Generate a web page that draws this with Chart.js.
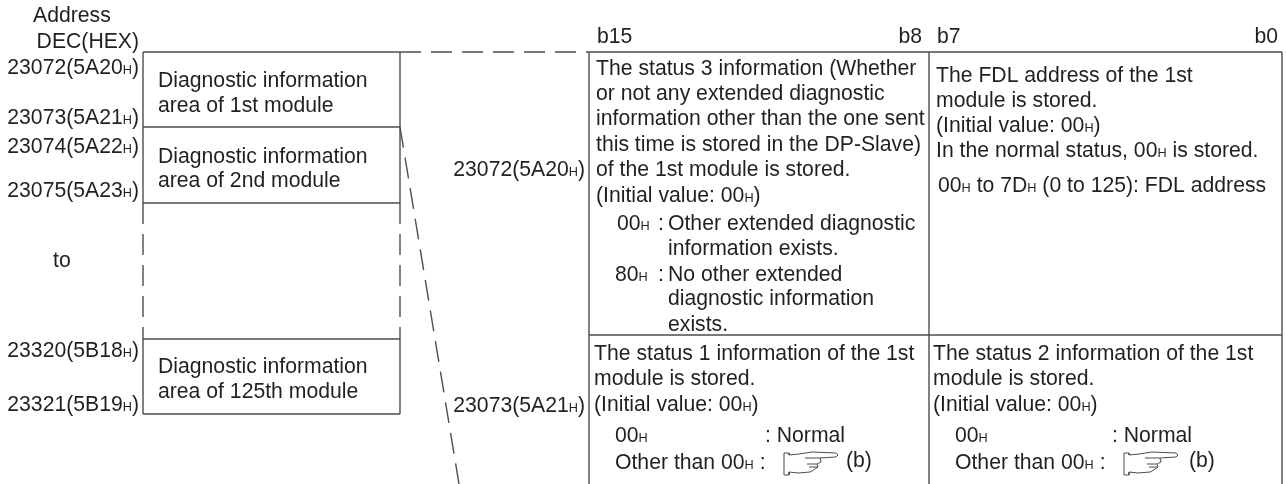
<!DOCTYPE html>
<html>
<head>
<meta charset="utf-8">
<style>
html, body { margin: 0; padding: 0; background: #fff; }
#wrap { width: 1286px; height: 484px; }
</style>
<script src="https://cdn.jsdelivr.net/npm/chart.js@4/dist/chart.umd.min.js"></script>
</head>
<body>
<div id="wrap"><canvas id="diagram" aria-label="Diagnostic information address map"></canvas></div>
<script>
// box and table rules: [x1, y1, x2, y2]
const solidLines = [
    [143, 52, 421, 52], [143, 127, 400, 127], [143, 203, 400, 203],
    [143, 52, 143, 203], [400, 52, 400, 203],
    [143, 339, 400, 339], [143, 414, 400, 414],
    [143, 339, 143, 414], [400, 339, 400, 414],
    [589, 52, 1282, 52], [589, 335, 1282, 335],
    [589, 52, 589, 484], [929, 52, 929, 484], [1282, 52, 1282, 484]
];
const dashedLines = [
    [143, 203, 143, 339], [400, 203, 400, 339],
    [431, 52, 589, 52], [400, 127, 459, 484]
];
// pointing hand outline, drawn at each reference mark
const handXs = [0, 5, 5, 15, 28, 52, 54, 52, 36, 37, 33, 34, 28, 26, 14, 5, 5, 0, 0];
const handYs = [1, 1, 3, 2, 0, 1, 3, 5, 6, 10, 12, 15, 19, 20, 21, 20, 23, 23, 1];
const handOrigins = [[784, 452], [1124, 452]];
const handInner = [[36, 6, 21, 6], [33, 12, 23, 12], [34, 15, 25, 15]];

// '~' marks the small H of a hex value
const leftLabels = [
    ['Address', 33, 22], ['to', 53, 267]
];
const rightLabels = [
    ['DEC(HEX)', 139, 48], ['23072(5A20~)', 139, 74], ['23073(5A21~)', 139, 124],
    ['23074(5A22~)', 139, 153], ['23075(5A23~)', 139, 197],
    ['23320(5B18~)', 139, 357], ['23321(5B19~)', 139, 411],
    ['23072(5A20~)', 585, 176], ['23073(5A21~)', 585, 412],
    ['b8', 922, 43], ['b0', 1278, 43]
];
const boxLabels = [
    ['Diagnostic information', 158, 87], ['area of 1st module', 158, 112],
    ['Diagnostic information', 158, 163], ['area of 2nd module', 158, 187],
    ['Diagnostic information', 158, 373], ['area of 125th module', 158, 398]
];
const tableLabels = [
    ['b15', 597, 43], ['b7', 937, 43],
    ['The status 3 information (Whether', 596, 75], ['or not any extended diagnostic', 596, 100],
    ['information other than the one sent', 596, 125], ['this time is stored in the DP-Slave)', 596, 151],
    ['of the 1st module is stored.', 596, 176], ['(Initial value: 00~)', 596, 202],
    ['00~', 617, 230], [':', 658, 230], ['Other extended diagnostic', 668, 230],
    ['information exists.', 668, 255],
    ['80~', 615, 281], [':', 658, 281], ['No other extended', 668, 281],
    ['diagnostic information', 668, 305], ['exists.', 668, 331],
    ['The FDL address of the 1st', 936, 82], ['module is stored.', 936, 107],
    ['(Initial value: 00~)', 936, 132], ['In the normal status, 00~ is stored.', 936, 157],
    ['00~ to 7D~ (0 to 125): FDL address', 938, 192],
    ['The status 1 information of the 1st', 594, 360], ['module is stored.', 594, 385],
    ['(Initial value: 00~)', 594, 411], ['00~', 615, 442], [': Normal', 765, 442],
    ['Other than 00~ :', 615, 469], ['(b)', 846, 467],
    ['The status 2 information of the 1st', 933, 360], ['module is stored.', 933, 385],
    ['(Initial value: 00~)', 933, 411], ['00~', 955, 442], [': Normal', 1112, 442],
    ['Other than 00~ :', 955, 469], ['(b)', 1189, 467]
];

const inkColor = '#231f20';
const ruleColor = '#4d4d4f';
const fontSize = 21.2;
const smallRatio = 0.6;

function lineDataset(seg, dash) {
    return {
        data: [{ x: seg[0], y: seg[1] }, { x: seg[2], y: seg[3] }],
        borderColor: ruleColor,
        borderWidth: 1.4,
        borderDash: dash,
        pointRadius: 0,
        tension: 0
    };
}

const datasets = [];
solidLines.forEach(seg => datasets.push(lineDataset(seg, [])));
dashedLines.forEach(seg => datasets.push(lineDataset(seg, [21, 10])));
handOrigins.forEach(o => {
    datasets.push({
        data: handXs.map((x, i) => ({ x: o[0] + x, y: o[1] + handYs[i] })),
        borderColor: ruleColor,
        borderWidth: 1,
        pointRadius: 0,
        tension: 0
    });
    handInner.forEach(s => {
        const d = lineDataset([o[0] + s[0], o[1] + s[1], o[0] + s[2], o[1] + s[3]], []);
        d.borderWidth = 1;
        datasets.push(d);
    });
});

// width of a label with its small H parts
function labelWidth(ctx, parts) {
    let w = 0;
    parts.forEach((p, i) => {
        ctx.font = fontSize + 'px "Liberation Sans"';
        w += ctx.measureText(p).width;
        if (i < parts.length - 1) {
            ctx.font = (fontSize * smallRatio) + 'px "Liberation Sans"';
            w += ctx.measureText('H').width;
        }
    });
    return w;
}

function drawLabel(chart, label, alignRight) {
    const ctx = chart.ctx;
    const parts = label[0].split('~');
    let x = chart.scales.x.getPixelForValue(label[1]);
    const y = chart.scales.y.getPixelForValue(label[2]);
    if (alignRight) x -= labelWidth(ctx, parts);
    parts.forEach((p, i) => {
        ctx.font = fontSize + 'px "Liberation Sans"';
        ctx.fillText(p, x, y);
        x += ctx.measureText(p).width;
        if (i < parts.length - 1) {
            ctx.font = (fontSize * smallRatio) + 'px "Liberation Sans"';
            ctx.fillText('H', x, y);
            x += ctx.measureText('H').width;
        }
    });
}

const textPlugin = {
    id: 'diagramText',
    afterDatasetsDraw(chart) {
        const ctx = chart.ctx;
        ctx.save();
        ctx.fillStyle = inkColor;
        ctx.textAlign = 'left';
        ctx.textBaseline = 'alphabetic';
        leftLabels.concat(boxLabels, tableLabels).forEach(l => drawLabel(chart, l, false));
        rightLabels.forEach(l => drawLabel(chart, l, true));
        ctx.restore();
    }
};

new Chart(document.getElementById('diagram').getContext('2d'), {
    type: 'line',
    data: { datasets: datasets },
    plugins: [textPlugin],
    options: {
        responsive: true,
        maintainAspectRatio: false,
        animation: false,
        layout: { padding: 0 },
        parsing: false,
        scales: {
            x: { type: 'linear', display: false, min: 0, max: 1286 },
            y: { type: 'linear', display: false, min: 0, max: 484, reverse: true }
        },
        plugins: {
            legend: { display: false },
            tooltip: { enabled: false }
        }
    }
});
</script>
</body>
</html>
